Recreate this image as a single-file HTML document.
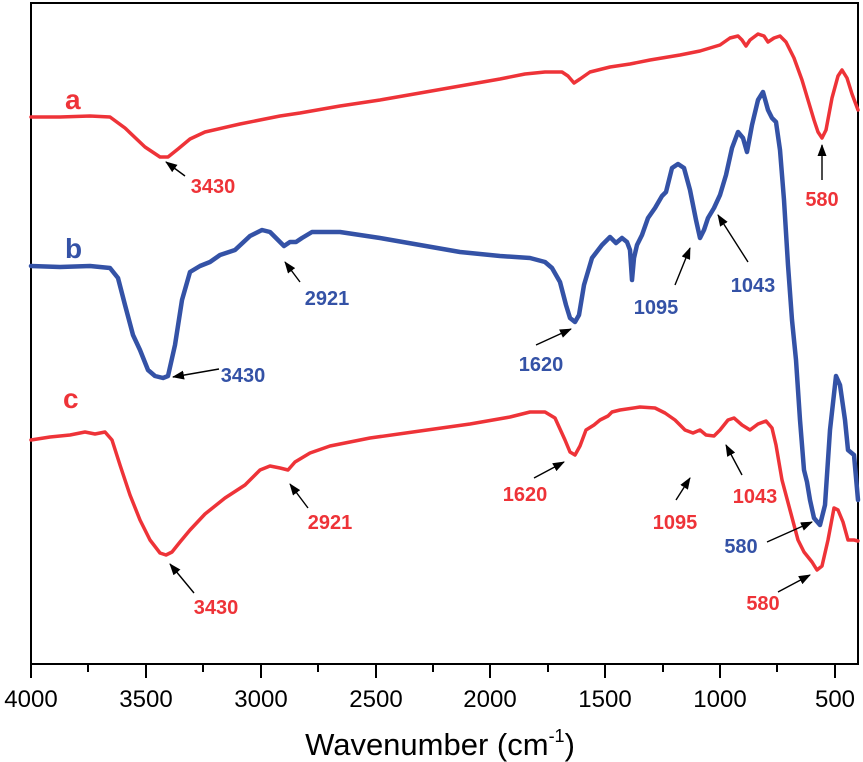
<!DOCTYPE html>
<html><head><meta charset="utf-8"><style>
html,body{margin:0;padding:0;background:#fff;}
svg{display:block;}
text{font-family:"Liberation Sans",Arial,sans-serif;}
.lb{font-weight:bold;font-size:20px;}
</style></head><body>
<svg width="863" height="762" viewBox="0 0 863 762" xmlns="http://www.w3.org/2000/svg">
<defs>
<marker id="ah" markerWidth="12" markerHeight="9" refX="11" refY="4.5" orient="auto" markerUnits="userSpaceOnUse">
<path d="M0,0 L12,4.5 L0,9 Z" fill="#000"/>
</marker>
</defs>
<rect x="31" y="3" width="827" height="661" fill="none" stroke="#000" stroke-width="2"/>
<g stroke="#000" stroke-width="2">
<line x1="31" y1="664" x2="31" y2="678"/><line x1="88" y1="664" x2="88" y2="672"/>
<line x1="146" y1="664" x2="146" y2="678"/><line x1="203" y1="664" x2="203" y2="672"/>
<line x1="261" y1="664" x2="261" y2="678"/><line x1="318" y1="664" x2="318" y2="672"/>
<line x1="376" y1="664" x2="376" y2="678"/><line x1="433" y1="664" x2="433" y2="672"/>
<line x1="490" y1="664" x2="490" y2="678"/><line x1="548" y1="664" x2="548" y2="672"/>
<line x1="605" y1="664" x2="605" y2="678"/><line x1="663" y1="664" x2="663" y2="672"/>
<line x1="720" y1="664" x2="720" y2="678"/><line x1="777" y1="664" x2="777" y2="672"/>
<line x1="835" y1="664" x2="835" y2="678"/>
</g>
<g font-size="24" text-anchor="middle" fill="#000">
<text x="31" y="707">4000</text><text x="146" y="707">3500</text><text x="261" y="707">3000</text>
<text x="376" y="707">2500</text><text x="490" y="707">2000</text><text x="605" y="707">1500</text>
<text x="720" y="707">1000</text><text x="835" y="707">500</text>
</g>
<text x="440" y="755" font-size="31" text-anchor="middle">Wavenumber (cm<tspan font-size="18" dy="-13">-1</tspan><tspan dy="13">)</tspan></text>

<g fill="none" stroke-linejoin="round" stroke-linecap="round">
<path stroke="#ee3338" stroke-width="3.5" d="M31,117 L60,117 L90,116 L110,117 L125,128 L145,147 L160,157 L168,157 L178,149 L190,139 L205,132 L240,124 L280,116 L300,113 L340,106 L380,100 L420,93 L460,86 L500,79 L525,74 L545,72 L562,72 L568,76 L574,83 L580,79 L590,72 L610,67 L630,64 L650,60 L680,55 L700,51 L720,45 L730,38 L738,36 L742,40 L746,46 L750,40 L758,34 L764,36 L768,42 L774,38 L780,36 L786,42 L794,58 L802,80 L808,100 L814,120 L818,132 L822,138 L826,130 L832,98 L838,76 L842,70 L847,78 L852,94 L858,110"/>
<path stroke="#3452a6" stroke-width="4.5" d="M31,266 L60,267 L90,266 L110,268 L118,278 L125,305 L133,335 L140,350 L148,370 L155,376 L163,378 L168,376 L175,345 L182,300 L190,272 L200,266 L210,262 L220,255 L235,250 L250,236 L262,230 L270,232 L278,240 L284,246 L290,242 L296,242 L302,238 L312,232 L340,232 L380,238 L420,245 L460,252 L500,256 L530,258 L545,262 L552,268 L560,282 L566,305 L570,318 L575,322 L579,315 L584,285 L592,258 L602,245 L610,237 L616,243 L622,238 L627,242 L630,250 L632,280 L634,258 L637,245 L642,235 L648,218 L655,208 L662,196 L666,192 L672,168 L678,164 L684,168 L690,190 L696,220 L700,238 L704,230 L708,218 L714,208 L720,195 L726,175 L732,148 L738,132 L743,138 L747,152 L752,125 L758,100 L763,92 L768,110 L772,118 L776,122 L780,150 L784,200 L788,265 L792,320 L796,360 L800,420 L804,470 L807,482 L810,500 L814,518 L820,525 L825,505 L830,430 L836,376 L840,385 L845,420 L848,450 L854,455 L858,500"/>
<path stroke="#ee3338" stroke-width="3.5" d="M31,440 L50,437 L70,435 L85,432 L95,434 L105,432 L112,440 L120,465 L130,495 L140,520 L150,540 L160,553 L166,555 L172,552 L180,542 L190,530 L205,514 L225,498 L245,485 L260,470 L270,466 L280,468 L288,470 L295,462 L310,453 L330,446 L370,438 L420,431 L470,424 L510,417 L530,412 L545,412 L555,418 L565,440 L570,452 L575,455 L580,446 L586,430 L594,425 L600,420 L608,416 L612,412 L620,410 L640,407 L655,408 L665,413 L675,420 L685,430 L693,433 L700,430 L706,435 L714,436 L720,430 L728,420 L734,418 L742,425 L750,430 L758,424 L766,421 L772,428 L776,445 L782,480 L790,510 L798,540 L804,552 L808,557 L812,562 L817,570 L822,566 L828,540 L834,508 L838,510 L843,522 L848,540 L854,540 L858,541"/>
</g>

<g class="lb">
<text x="65" y="109" font-size="28" fill="#ee3338">a</text>
<text x="65" y="258" font-size="28" fill="#3452a6">b</text>
<text x="63" y="408" font-size="28" fill="#ee3338">c</text>
</g>

<g stroke="#000" stroke-width="1.4" marker-end="url(#ah)">
<line x1="185" y1="176" x2="166" y2="162"/>
<line x1="219" y1="369" x2="173" y2="377"/>
<line x1="194" y1="593" x2="170" y2="564"/>
<line x1="300" y1="282" x2="285" y2="262"/>
<line x1="308" y1="508" x2="290" y2="484"/>
<line x1="536" y1="345" x2="571" y2="329"/>
<line x1="534" y1="478" x2="564" y2="462"/>
<line x1="675" y1="285" x2="690" y2="248"/>
<line x1="748" y1="262" x2="718" y2="215"/>
<line x1="676" y1="500" x2="690" y2="478"/>
<line x1="742" y1="475" x2="726" y2="445"/>
<line x1="822" y1="180" x2="822" y2="145"/>
<line x1="767" y1="542" x2="812" y2="522"/>
<line x1="778" y1="592" x2="810" y2="575"/>
</g>

<g class="lb" text-anchor="middle">
<text x="213" y="193" fill="#ee3338">3430</text>
<text x="243" y="382" fill="#3452a6">3430</text>
<text x="216" y="614" fill="#ee3338">3430</text>
<text x="327" y="305" fill="#3452a6">2921</text>
<text x="330" y="529" fill="#ee3338">2921</text>
<text x="541" y="371" fill="#3452a6">1620</text>
<text x="525" y="501" fill="#ee3338">1620</text>
<text x="656" y="314" fill="#3452a6">1095</text>
<text x="753" y="292" fill="#3452a6">1043</text>
<text x="675" y="529" fill="#ee3338">1095</text>
<text x="755" y="503" fill="#ee3338">1043</text>
<text x="822" y="206" fill="#ee3338">580</text>
<text x="741" y="553" fill="#3452a6">580</text>
<text x="763" y="610" fill="#ee3338">580</text>
</g>
</svg>
</body></html>
